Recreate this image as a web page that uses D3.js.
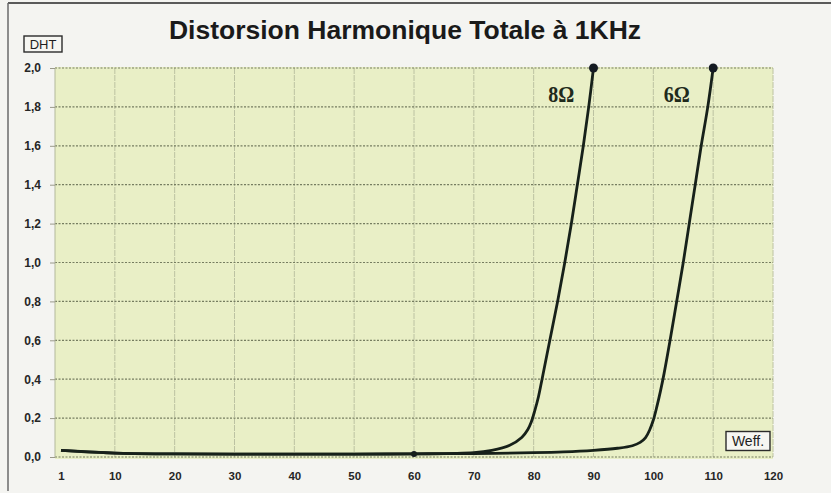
<!DOCTYPE html>
<html>
<head>
<meta charset="utf-8">
<script src="https://cdn.jsdelivr.net/npm/d3@7"></script>
<style>
  html, body { margin: 0; padding: 0; background: #f4f4f1; }
  svg { display: block; }
</style>
</head>
<body>
<svg id="chart" width="831" height="493"></svg>
<script>
// Total harmonic distortion (DHT) at 1 kHz versus effective output power (Weff.)
const titleText = "Distorsion Harmonique Totale à 1KHz";
const yAxisTitle = "DHT";
const xAxisTitle = "Weff.";

const xTickValues = [1, 10, 20, 30, 40, 50, 60, 70, 80, 90, 100, 110, 120];
const yTickValues = [0, 0.2, 0.4, 0.6, 0.8, 1.0, 1.2, 1.4, 1.6, 1.8, 2.0];

// 8 ohm load
const load8Name = "8Ω";
const load8Power = [1, 5, 10, 20, 30, 40, 50, 60, 70, 73, 76, 78, 79, 79.6, 80.2, 80.8, 81.4, 82.7, 84.0, 85.2, 86.3, 87.3, 88.3, 89.2, 90];
const load8Dht   = [0.034, 0.028, 0.020, 0.016, 0.015, 0.015, 0.015, 0.016, 0.022, 0.034, 0.06, 0.1, 0.14, 0.18, 0.24, 0.31, 0.4, 0.6, 0.8, 1.0, 1.2, 1.4, 1.6, 1.8, 2.0];

// 6 ohm load
const load6Name = "6Ω";
const load6Power = [1, 10, 20, 30, 40, 50, 60, 70, 80, 85, 90, 94, 96.5, 97.8, 98.7, 99.4, 100, 100.6, 101.2, 101.8, 102.8, 103.9, 105.0, 106.0, 107.0, 108.0, 109.1, 110];
const load6Dht   = [0.034, 0.020, 0.016, 0.015, 0.015, 0.015, 0.016, 0.018, 0.022, 0.026, 0.034, 0.045, 0.058, 0.075, 0.1, 0.14, 0.19, 0.26, 0.34, 0.43, 0.6, 0.8, 1.0, 1.2, 1.4, 1.6, 1.8, 2.0];

// measured points drawn with a marker
const load8Markers = [60, 90];
const load6Markers = [110];

const svg = d3.select("#chart");
const W = 831, H = 493;
const plot = { left: 55, right: 773, top: 68, bottom: 457 };

const x = d3.scaleLinear().domain([0, 120]).range([plot.left, plot.right]);
const y = d3.scaleLinear().domain([0, 2]).range([plot.bottom, plot.top]);

const sans = "Liberation Sans, Arial, sans-serif";

// page frame
svg.append("line").attr("x1", 8).attr("x2", W).attr("y1", 3).attr("y2", 3)
  .attr("stroke", "#5a5a5a").attr("stroke-width", 2);
svg.append("line").attr("x1", 8).attr("x2", 8).attr("y1", 3).attr("y2", 491)
  .attr("stroke", "#6a6a6a").attr("stroke-width", 1.5);

// title
svg.append("text")
  .attr("x", 405).attr("y", 39)
  .attr("text-anchor", "middle")
  .attr("font-family", sans)
  .attr("font-weight", "bold")
  .attr("font-size", 26.5)
  .attr("fill", "#1a1a1a")
  .text(titleText);

// plot background
svg.append("rect")
  .attr("x", plot.left).attr("y", plot.top - 1)
  .attr("width", plot.right - plot.left).attr("height", plot.bottom - plot.top + 3)
  .attr("fill", "#e9efc6");

// vertical grid
svg.append("g")
  .selectAll("line")
  .data(d3.range(10, 121, 10))
  .join("line")
  .attr("x1", d => x(d)).attr("x2", d => x(d))
  .attr("y1", plot.top).attr("y2", plot.bottom)
  .attr("stroke", "#bcc2a2").attr("stroke-width", 1)
  .attr("stroke-dasharray", "6,1");

// horizontal grid (dotted)
svg.append("g")
  .selectAll("line")
  .data(yTickValues)
  .join("line")
  .attr("x1", plot.left).attr("x2", plot.right)
  .attr("y1", d => y(d)).attr("y2", d => y(d))
  .attr("stroke", "#767d60").attr("stroke-width", 1.2)
  .attr("stroke-dasharray", "2,1.5");

// left plot edge
svg.append("line")
  .attr("x1", plot.left).attr("x2", plot.left)
  .attr("y1", plot.top).attr("y2", plot.bottom)
  .attr("stroke", "#b3b99a").attr("stroke-width", 1);

// y axis
const yAxis = d3.axisLeft(y)
  .tickValues(yTickValues)
  .tickSize(5)
  .tickPadding(9)
  .tickFormat(d => d3.format(".1f")(d).replace(".", ","));
const gy = svg.append("g").attr("transform", `translate(${plot.left},0)`).call(yAxis);
gy.select(".domain").remove();
gy.selectAll(".tick line").attr("stroke", "#9a9a8a");
gy.selectAll(".tick text")
  .attr("font-family", sans)
  .attr("font-weight", "bold")
  .attr("font-size", 12)
  .attr("fill", "#262626");

// x axis
const xAxis = d3.axisBottom(x)
  .tickValues(xTickValues)
  .tickSize(0)
  .tickPadding(15)
  .tickFormat(d3.format("d"));
const gx = svg.append("g").attr("transform", `translate(0,${plot.bottom})`).call(xAxis);
gx.select(".domain").remove();
gx.selectAll(".tick text")
  .attr("font-family", sans)
  .attr("font-weight", "bold")
  .attr("font-size", 11.5)
  .attr("fill", "#262626");

// boxed axis titles
function boxedLabel(cx, cy, text, w, h, size) {
  const g = svg.append("g");
  g.append("rect")
    .attr("x", cx - w / 2).attr("y", cy - h / 2)
    .attr("width", w).attr("height", h)
    .attr("fill", "#f6f6f2").attr("stroke", "#2b2b2b").attr("stroke-width", 1.4);
  g.append("text")
    .attr("x", cx).attr("y", cy + size * 0.36)
    .attr("text-anchor", "middle")
    .attr("font-family", sans)
    .attr("font-size", size)
    .attr("fill", "#1e1e1e")
    .text(text);
}
boxedLabel(43, 44, yAxisTitle, 38, 16, 13);
boxedLabel(748, 441, xAxisTitle, 44, 19, 14);

// curves
const line = d3.line()
  .x(d => x(d[0]))
  .y(d => y(d[1]))
  .curve(d3.curveCatmullRom.alpha(0.5));

const series = [
  { name: load8Name, pts: d3.zip(load8Power, load8Dht), markers: load8Markers },
  { name: load6Name, pts: d3.zip(load6Power, load6Dht), markers: load6Markers }
];

series.forEach(s => {
  svg.append("path")
    .datum(s.pts)
    .attr("fill", "none")
    .attr("stroke", "#17211a")
    .attr("stroke-width", 2.8)
    .attr("stroke-linejoin", "round")
    .attr("d", line);
  svg.append("g")
    .selectAll("circle")
    .data(s.pts.filter(p => s.markers.includes(p[0])))
    .join("circle")
    .attr("cx", d => x(d[0]))
    .attr("cy", d => y(d[1]))
    .attr("r", d => d[1] >= 2 ? 4.5 : 3)
    .attr("fill", "#141a22");
});

// load labels next to each curve
const labelFont = "Liberation Serif, Times New Roman, serif";
[
  { text: load8Name, px: 84.6 },
  { text: load6Name, px: 103.9 }
].forEach(l => {
  svg.append("text")
    .attr("x", x(l.px)).attr("y", 102)
    .attr("text-anchor", "middle")
    .attr("font-family", labelFont)
    .attr("font-weight", "bold")
    .attr("font-size", 24)
    .attr("textLength", 26)
    .attr("lengthAdjust", "spacingAndGlyphs")
    .attr("fill", "#1f2a1c")
    .text(l.text);
});
</script>
</body>
</html>
